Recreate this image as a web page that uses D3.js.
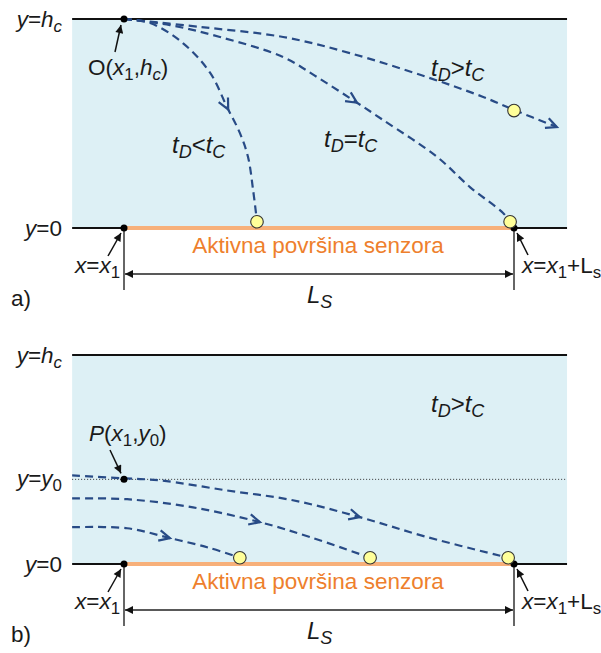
<!DOCTYPE html>
<html><head><meta charset="utf-8">
<script src="https://cdn.jsdelivr.net/npm/d3@7"></script>
<style>html,body{margin:0;padding:0;background:#fff;}svg{display:block;font-family:"Liberation Sans",Arial,sans-serif;}</style>
</head><body>
<svg id="c" width="601" height="653"></svg>
<script>
// ---- data (diagram units: x1 = 0, x1+Ls = 1; y = 0 at sensor, y = hc = 1) ----
const channelX = [-0.133, 1.136];
const sensorX = [0, 1];
const y0Level = 0.405;

// panel a) trajectories starting at O(x1, hc)
const trajLessX = [0, 0.067, 0.151, 0.221, 0.264, 0.297, 0.318, 0.331, 0.341];
const trajLessY = [1, 0.981, 0.885, 0.742, 0.579, 0.455, 0.340, 0.182, 0.03];
const trajEqualX = [0, 0.118, 0.246, 0.408, 0.495, 0.587, 0.664, 0.803, 0.887, 0.972, 0.99];
const trajEqualY = [1, 0.971, 0.914, 0.818, 0.722, 0.612, 0.517, 0.340, 0.196, 0.072, 0.03];
const trajMoreX = [0, 0.195, 0.408, 0.579, 0.777, 0.921, 1.0, 1.11];
const trajMoreY = [1, 0.962, 0.914, 0.837, 0.722, 0.627, 0.565, 0.483];
const arrowsA = [0.267, 0.597];          // mid-arrow x positions (less, equal)
const particlesA = [[0.341, 0.03], [0.99, 0.03], [1.0, 0.562]];

// panel b) trajectories, t_D > t_C
const trajB1X = [-0.133, 0, 0.092, 0.264, 0.433, 0.605, 0.777, 0.985];
const trajB1Y = [0.424, 0.410, 0.400, 0.352, 0.305, 0.224, 0.129, 0.03];
const trajB2X = [-0.133, 0.008, 0.177, 0.349, 0.477, 0.631];
const trajB2Y = [0.314, 0.310, 0.271, 0.200, 0.129, 0.03];
const trajB3X = [-0.133, 0.008, 0.118, 0.221, 0.297];
const trajB3Y = [0.176, 0.171, 0.124, 0.076, 0.03];
const arrowsB = [0.605, 0.349, 0.118];
const particlesB = [[0.985, 0.03], [0.631, 0.03], [0.297, 0.03]];

const sensorLabel = "Aktivna površina senzora";

// ---- styles ----
const C = {bg:"#ddf0f5", line:"#111", dash:"#284b86", orange:"#f7b07a", orangeText:"#ee7f2d",
           yellow:"#ffff99", text:"#1a1a1a"};
const FS = 22.5, SUB = 0.75, FS_T = 24;

const svg = d3.select("#c");
const defs = svg.append("defs");
defs.append("marker").attr("id","ah").attr("viewBox","0 0 10 10").attr("refX",10).attr("refY",5)
  .attr("markerWidth",10).attr("markerHeight",8).attr("markerUnits","userSpaceOnUse").attr("orient","auto-start-reverse")
  .append("path").attr("d","M0,0 L10,5 L0,10 Z").attr("fill","#111");

const xS = d3.scaleLinear().domain([0,1]).range([124,514]);

function richText(g, x, y, parts, opts={}) {
  const fs = opts.fs||FS;
  const t = g.append("text").attr("x",x).attr("y",y).attr("font-size",fs)
    .attr("fill",opts.fill||C.text).attr("text-anchor",opts.anchor||"start");
  let shift = 0;
  parts.forEach(p => {
    const ts = t.append("tspan").text(p.t);
    if (p.i) ts.attr("font-style","italic");
    const target = p.s ? 5 : 0;
    if (target !== shift) { ts.attr("dy", target - shift); shift = target; }
    if (p.s) ts.attr("font-size", fs*SUB);
  });
  return t;
}

function chevron(g, x, y, ang) {
  const L = 12, a = 0.45;
  const p1 = [x - L*Math.cos(ang - a), y - L*Math.sin(ang - a)];
  const p2 = [x - L*Math.cos(ang + a), y - L*Math.sin(ang + a)];
  g.append("path").attr("d",`M${p1[0]},${p1[1]} L${x},${y} L${p2[0]},${p2[1]}`)
    .attr("fill","none").attr("stroke",C.dash).attr("stroke-width",2.2).attr("stroke-linejoin","miter");
}

function trajectory(g, yS, xs, ys, arrowX, endArrow) {
  const pts = xs.map((v,i)=>[xS(v), yS(ys[i])]);
  const line = d3.line().curve(d3.curveCatmullRom.alpha(0.5));
  const path = g.append("path").attr("d", line(pts)).attr("fill","none").attr("stroke",C.dash)
    .attr("stroke-width",2.2).attr("stroke-dasharray","8,5");
  const node = path.node(), len = node.getTotalLength();
  function at(l){ return node.getPointAtLength(Math.max(0,Math.min(len,l))); }
  if (arrowX != null) {
    const tx = xS(arrowX);
    let best = 0, bd = 1e9;
    for (let l=0; l<=len; l+=0.5) { const p = at(l); const d = Math.abs(p.x - tx); if (d < bd) { bd = d; best = l; } }
    const p = at(best), a = at(best-2), b = at(best+2);
    chevron(g, p.x, p.y, Math.atan2(b.y-a.y, b.x-a.x));
  }
  if (endArrow) {
    const p = at(len), a = at(len-4);
    chevron(g, p.x, p.y, Math.atan2(p.y-a.y, p.x-a.x));
  }
}

function panel(offsetY, label) {
  const g = svg.append("g");
  const yS = d3.scaleLinear().domain([0,1]).range([228+offsetY, 19+offsetY]);
  // channel
  g.append("rect").attr("x",xS(channelX[0])).attr("y",yS(1)).attr("width",xS(channelX[1])-xS(channelX[0]))
    .attr("height",yS(0)-yS(1)).attr("fill",C.bg);
  g.append("line").attr("x1",xS(channelX[0])).attr("x2",xS(channelX[1])).attr("y1",yS(1)).attr("y2",yS(1))
    .attr("stroke",C.line).attr("stroke-width",2);
  g.append("line").attr("x1",xS(channelX[0])).attr("x2",xS(sensorX[0])).attr("y1",yS(0)).attr("y2",yS(0))
    .attr("stroke",C.line).attr("stroke-width",2);
  g.append("line").attr("x1",xS(sensorX[1])).attr("x2",xS(channelX[1])).attr("y1",yS(0)).attr("y2",yS(0))
    .attr("stroke",C.line).attr("stroke-width",2);
  g.append("line").attr("x1",xS(sensorX[0])).attr("x2",xS(sensorX[1])).attr("y1",yS(0)).attr("y2",yS(0))
    .attr("stroke",C.orange).attr("stroke-width",4);
  // sensor label
  g.append("text").attr("x",(xS(0)+xS(1))/2 - 1).attr("y",yS(0)+25).attr("text-anchor","middle")
    .attr("font-size",FS).attr("fill",C.orangeText).text(sensorLabel);
  // dimension
  [0,1].forEach(v => g.append("line").attr("x1",xS(v)).attr("x2",xS(v)).attr("y1",yS(0)).attr("y2",yS(0)+62)
    .attr("stroke","#333").attr("stroke-width",1.5));
  g.append("line").attr("x1",xS(0)+1).attr("x2",xS(1)-1).attr("y1",yS(0)+46).attr("y2",yS(0)+46)
    .attr("stroke","#222").attr("stroke-width",1.3).attr("marker-start","url(#ah)").attr("marker-end","url(#ah)");
  richText(g, 307, yS(0)+75, [{t:"L",i:true},{t:"S",i:true,s:true}], {fs:FS_T});
  g.append("text").attr("x",11).attr("y",yS(0)+78).attr("font-size",FS).attr("fill",C.text).text(label);
  // left labels
  richText(g, 62, yS(1)+8, [{t:"y",i:true},{t:"="},{t:"h",i:true},{t:"c",i:true,s:true}], {anchor:"end"});
  richText(g, 62, yS(0)+8, [{t:"y",i:true},{t:"=0"}], {anchor:"end"});
  richText(g, 75, yS(0)+45, [{t:"x",i:true},{t:"="},{t:"x",i:true},{t:"1",s:true}]);
  richText(g, 522, yS(0)+45, [{t:"x",i:true},{t:"="},{t:"x",i:true},{t:"1",s:true},{t:"+L"},{t:"s",s:true}]);
  // small pointer arrows
  g.append("line").attr("x1",108).attr("y1",yS(0)+28).attr("x2",121).attr("y2",yS(0)+5)
    .attr("stroke","#111").attr("stroke-width",1.5).attr("marker-end","url(#ah)");
  g.append("line").attr("x1",528).attr("y1",yS(0)+27).attr("x2",517).attr("y2",yS(0)+5)
    .attr("stroke","#111").attr("stroke-width",1.5).attr("marker-end","url(#ah)");
  // corner dots
  [0,1].forEach(v => g.append("circle").attr("cx",xS(v)).attr("cy",yS(0)).attr("r",3.5).attr("fill","#000"));
  return {g, yS};
}

const tLabel = op => [{t:"t",i:true},{t:"D",i:true,s:true},{t:op},{t:"t",i:true},{t:"C",i:true,s:true}];

// ---- panel a ----
const A = panel(0, "a)");
trajectory(A.g, A.yS, trajLessX, trajLessY, arrowsA[0], false);
trajectory(A.g, A.yS, trajEqualX, trajEqualY, arrowsA[1], false);
trajectory(A.g, A.yS, trajMoreX, trajMoreY, null, true);
particlesA.forEach(p => A.g.append("circle").attr("cx",xS(p[0])).attr("cy",A.yS(p[1])).attr("r",6.3)
  .attr("fill",C.yellow).attr("stroke","#333").attr("stroke-width",1.1));
A.g.append("circle").attr("cx",xS(0)).attr("cy",A.yS(1)).attr("r",3.5).attr("fill","#000");
A.g.append("line").attr("x1",115).attr("y1",52).attr("x2",121).attr("y2",A.yS(1)+6)
  .attr("stroke","#111").attr("stroke-width",1.5).attr("marker-end","url(#ah)");
richText(A.g, 88, 75, [{t:"O("},{t:"x",i:true},{t:"1",s:true},{t:","},{t:"h",i:true},{t:"c",i:true,s:true},{t:")"}]);
richText(A.g, 431, 76, tLabel(">"), {fs:FS_T});
richText(A.g, 324, 147, tLabel("="), {fs:FS_T});
richText(A.g, 172, 153, tLabel("<"), {fs:FS_T});

// ---- panel b ----
const B = panel(336, "b)");
B.g.append("line").attr("x1",xS(channelX[0])).attr("x2",xS(channelX[1])).attr("y1",B.yS(y0Level)).attr("y2",B.yS(y0Level))
  .attr("stroke","#333").attr("stroke-width",1).attr("stroke-dasharray","1,2");
trajectory(B.g, B.yS, trajB1X, trajB1Y, arrowsB[0], false);
trajectory(B.g, B.yS, trajB2X, trajB2Y, arrowsB[1], false);
trajectory(B.g, B.yS, trajB3X, trajB3Y, arrowsB[2], false);
particlesB.forEach(p => B.g.append("circle").attr("cx",xS(p[0])).attr("cy",B.yS(p[1])).attr("r",6.3)
  .attr("fill",C.yellow).attr("stroke","#333").attr("stroke-width",1.1));
B.g.append("circle").attr("cx",xS(0)).attr("cy",B.yS(y0Level)).attr("r",3.5).attr("fill","#000");
B.g.append("line").attr("x1",110).attr("y1",450).attr("x2",121).attr("y2",B.yS(y0Level)-6)
  .attr("stroke","#111").attr("stroke-width",1.5).attr("marker-end","url(#ah)");
richText(B.g, 62, B.yS(y0Level)+7, [{t:"y",i:true},{t:"="},{t:"y",i:true},{t:"0",s:true}], {anchor:"end"});
richText(B.g, 89, 441, [{t:"P",i:true},{t:"("},{t:"x",i:true},{t:"1",s:true},{t:","},{t:"y",i:true},{t:"0",s:true},{t:")"}]);
richText(B.g, 431, 412, tLabel(">"), {fs:FS_T});
</script>
</body></html>
